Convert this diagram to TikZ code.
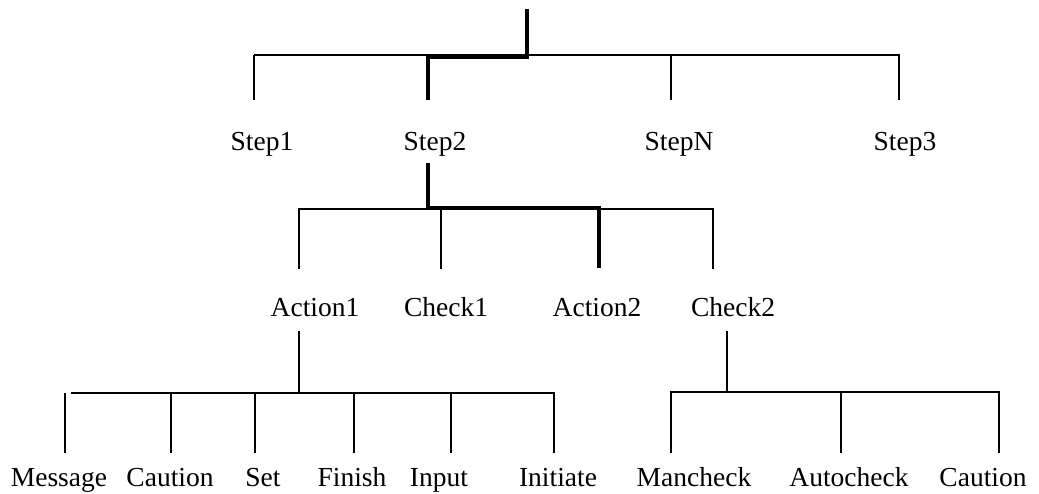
\documentclass[tikz,border=0pt]{standalone}
\usepackage{fontspec}
\setmainfont{Liberation Serif}
\begin{document}
\begin{tikzpicture}[x=1pt,y=-1pt,
  lbl/.style={anchor=base,inner sep=0pt,font=\fontsize{27.5}{30}\selectfont},
  bus/.style={line width=1.6pt,line cap=butt},
  hl/.style={line width=4.6pt,line join=miter,line cap=butt}]
\useasboundingbox (0,0) rectangle (1039,494);
% labels
\node[lbl] (step1) at (262,151) {Step1};
\node[lbl] (step2) at (435,151) {Step2};
\node[lbl] (stepn) at (679,151) {StepN};
\node[lbl] (step3) at (905,151) {Step3};
\node[lbl] (act1) at (315,317) {Action1};
\node[lbl] (chk1) at (446,317) {Check1};
\node[lbl] (act2) at (597,317) {Action2};
\node[lbl] (chk2) at (733,317) {Check2};
\node[lbl] (msg) at (59,486) {Message};
\node[lbl] (cau1) at (170,486) {Caution};
\node[lbl] (set) at (263,486) {Set};
\node[lbl] (fin) at (352,486) {Finish};
\node[lbl] (inp) at (439,486) {Input};
\node[lbl] (ini) at (558,486) {Initiate};
\node[lbl] (man) at (694,486) {Mancheck};
\node[lbl] (auto) at (849,486) {Autocheck};
\node[lbl] (cau2) at (983,486) {Caution};
% level 1 coordinates
\coordinate (root) at (527,9);
\coordinate (rootj) at (527,57);
\coordinate (s2j) at (428,57);
\coordinate (b1l) at (254,55);
\coordinate (b1r) at (899,55);
\coordinate (s1t) at (254,100);
\coordinate (s2t) at (428,100);
\coordinate (snj) at (671,55);
\coordinate (snt) at (671,100);
\coordinate (s3t) at (899,100);
% level 1
\draw[bus] (b1l) -- (s1t);
\draw[bus] (b1l) -- (b1r) -- (s3t);
\draw[bus] (snj) -- (snt);
\draw[hl] (root) -- (rootj) -- (s2j) -- (s2t);
% level 2 coordinates
\coordinate (s2b) at (428,163);
\coordinate (s2bj) at (428,208);
\coordinate (a2j) at (599,208);
\coordinate (a2t) at (599,268);
\coordinate (b2l) at (299,209);
\coordinate (b2r) at (713,209);
\coordinate (a1t) at (299,269);
\coordinate (c1j) at (441,209);
\coordinate (c1t) at (441,269);
\coordinate (c2t) at (713,269);
% level 2
\draw[bus] (a1t) -- (b2l) -- (b2r) -- (c2t);
\draw[bus] (c1j) -- (c1t);
\draw[hl] (s2b) -- (s2bj) -- (a2j) -- (a2t);
% level 3 left
\coordinate (a1b) at (299,331);
\coordinate (a1j) at (299,393);
\coordinate (b3l) at (71,393);
\coordinate (b3r) at (554,393);
\coordinate (msgj) at (65,393);
\coordinate (msgt) at (65,453);
\coordinate (cau1j) at (171,393);
\coordinate (cau1t) at (171,453);
\coordinate (setj) at (255,393);
\coordinate (sett) at (255,453);
\coordinate (finj) at (354,393);
\coordinate (fint) at (354,453);
\coordinate (inpj) at (451,393);
\coordinate (inpt) at (451,453);
\coordinate (init) at (554,453);
\draw[bus] (a1b) -- (a1j);
\draw[bus] (b3l) -- (b3r) -- (init);
\draw[bus] (msgj) -- (msgt);
\draw[bus] (cau1j) -- (cau1t);
\draw[bus] (setj) -- (sett);
\draw[bus] (finj) -- (fint);
\draw[bus] (inpj) -- (inpt);
% level 3 right
\coordinate (c2b) at (727,331);
\coordinate (c2j) at (727,392);
\coordinate (b4l) at (671,392);
\coordinate (b4r) at (999,392);
\coordinate (mant) at (671,453);
\coordinate (autoj) at (841,392);
\coordinate (autot) at (841,453);
\coordinate (cau2t) at (999,453);
\draw[bus] (c2b) -- (c2j);
\draw[bus] (mant) -- (b4l) -- (b4r) -- (cau2t);
\draw[bus] (autoj) -- (autot);
\end{tikzpicture}
\end{document}
